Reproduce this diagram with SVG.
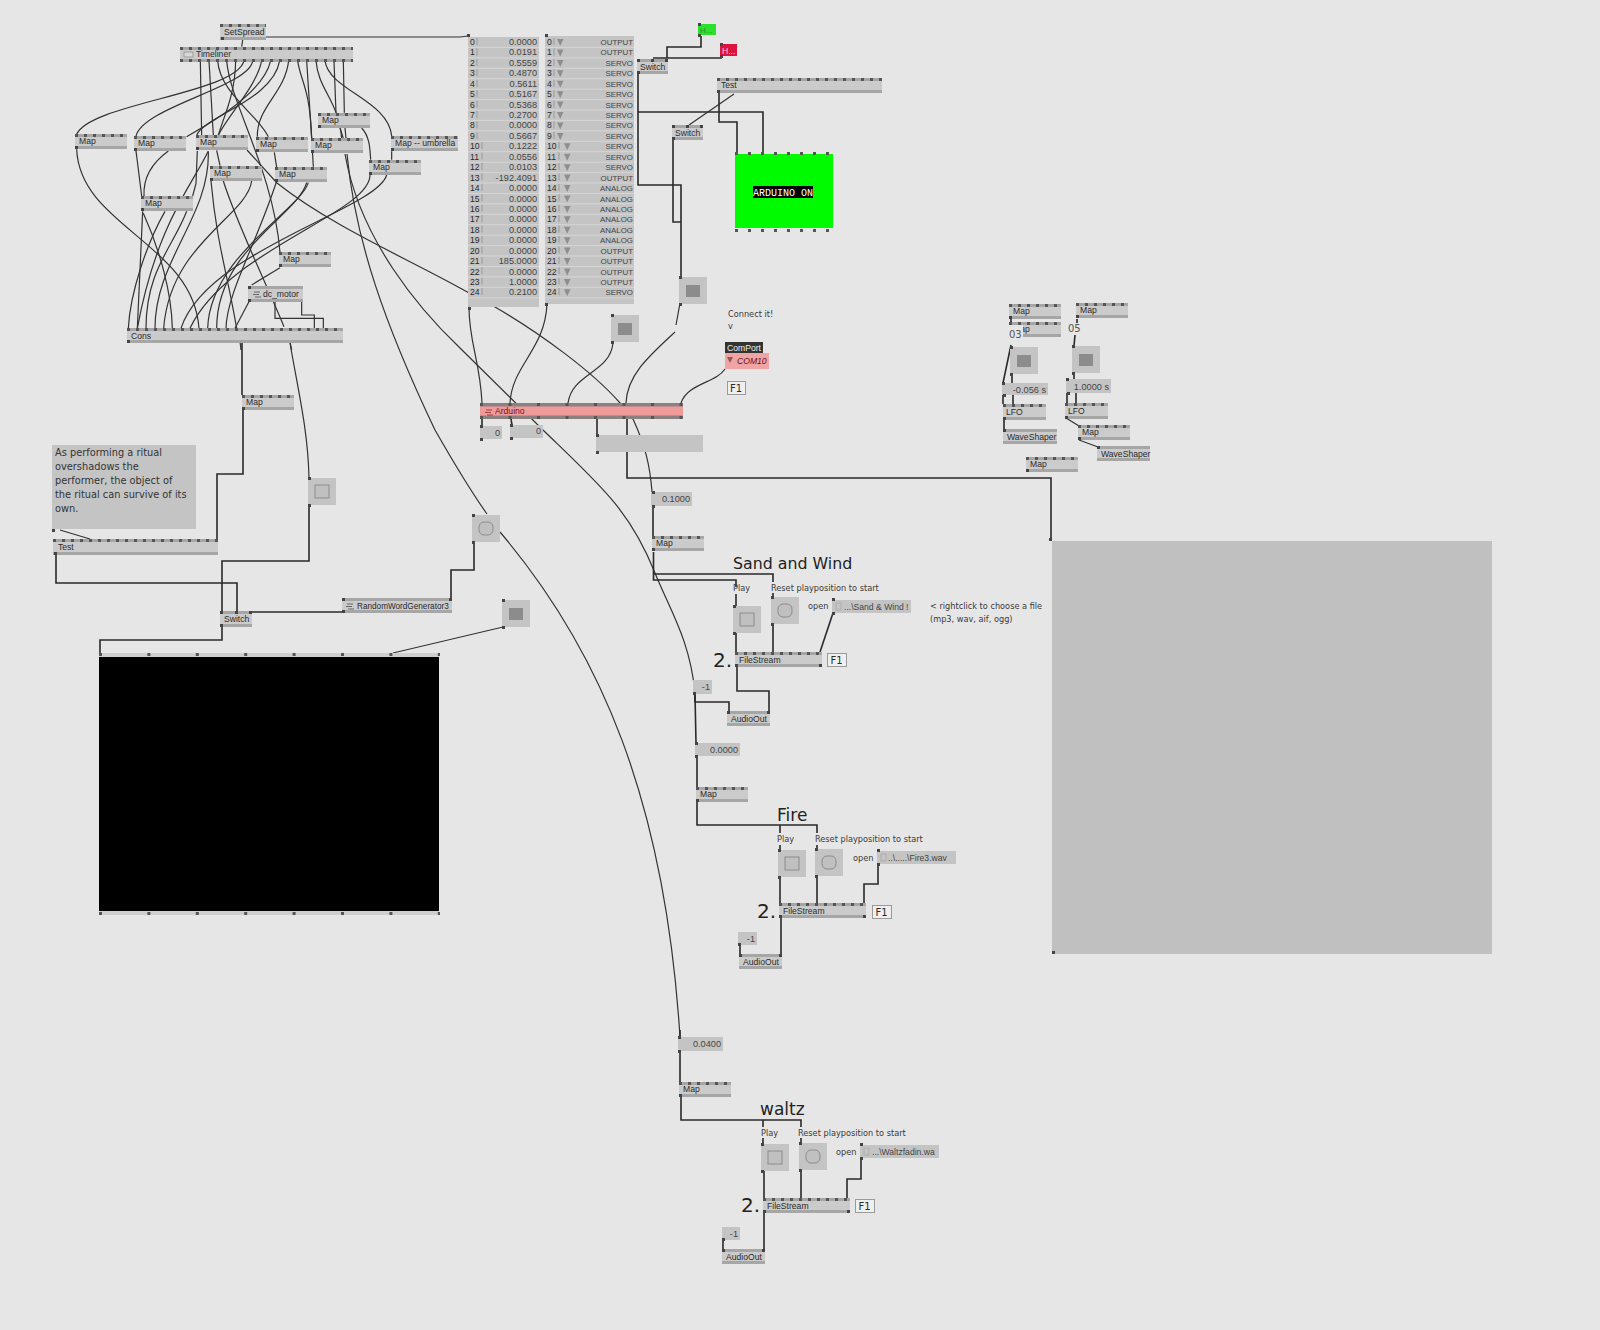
<svg xmlns="http://www.w3.org/2000/svg" width="1600" height="1330" viewBox="0 0 1600 1330">
<style>
text{font-family:"Liberation Sans",Arial,sans-serif;font-size:8.600px;fill:#2a2a2a}
.d{font-family:"DejaVu Sans",sans-serif}
.lb{font-family:"DejaVu Sans",sans-serif;font-size:8.200px;fill:#3a3a3a}
.big{font-family:"DejaVu Sans",sans-serif;font-size:17px;fill:#222}
.two{font-family:"DejaVu Sans",sans-serif;font-size:20px;fill:#222}
.r{text-anchor:end}
.v{font-size:9.200px;fill:#444}
.o{font-size:7.900px;fill:#444}
.bd{fill:#cbcbcb}
.box{fill:#c4c4c4}
.tb{fill:#a6a6a6}
.pn{stroke:#555;stroke-width:3;stroke-dasharray:3 6;fill:none}
.pk{fill:#444}
.w{fill:none;stroke:#333;stroke-width:1.2}
.t{fill:none;stroke:#2a2a2a;stroke-width:1.6}
.tick{fill:none;stroke:#999;stroke-width:1;stroke-dasharray:7 3.430}
.f1{fill:#efefef;stroke:#9a9a9a;stroke-width:1}
</style>
<defs>
<g id="map"><rect class="bd" width="52" height="15"/><rect class="tb" width="52" height="3"/><rect class="tb" y="12" width="52" height="3"/><path class="pn" d="M0,1.5H52"/><rect class="pk" y="12" width="3" height="3"/></g>
<g id="tg"><rect class="box" width="28" height="27"/><rect class="pk" y="-1" width="3" height="3"/><rect class="pk" y="26" width="3" height="3"/></g>
<g id="on"><use href="#tg"/><rect x="7" y="8" width="14" height="12" fill="#8c8c8c"/></g>
<g id="off"><use href="#tg"/><rect x="7" y="7" width="14" height="13" fill="#c0c0c0" stroke="#8c8c8c"/></g>
<g id="rnd"><use href="#tg"/><rect x="7" y="7" width="14" height="13" rx="5" fill="#c0c0c0" stroke="#8c8c8c"/></g>
<path id="tri" d="M0,0H6.5L3.2,7Z" fill="#8e8e8e"/>
<g id="fs"><rect class="bd" width="87" height="15"/><rect class="tb" width="87" height="3"/><rect class="tb" y="12" width="87" height="3"/><path class="pn" d="M0,1.5H87"/><rect class="pk" y="12" width="3" height="3"/><rect class="pk" x="84" y="12" width="3" height="3"/></g>
<g id="ao"><rect class="bd" width="43" height="15"/><rect class="tb" width="43" height="3"/><rect class="tb" y="12" width="43" height="3"/><rect class="pk" width="3" height="3"/><rect class="pk" x="40" width="3" height="3"/></g>
<g id="sw"><rect class="bd" width="31" height="15"/><rect class="tb" width="31" height="3"/><rect class="tb" y="12" width="31" height="3"/><rect class="pk" width="3" height="3"/><rect class="pk" x="14" width="3" height="3"/><rect class="pk" x="28" width="3" height="3"/><rect class="pk" y="12" width="3" height="3"/></g>
</defs>
<rect width="1600" height="1330" fill="#e6e6e6"/>

<g id="connectors">
<g transform="translate(60,10) scale(.33333)" fill="none" stroke="#333" stroke-width="3.6">
<path d="M548,90L545,110"/>
<path d="M421,152L425,376"/>
<path d="M447,152L460,376"/>
<path d="M473,152C480,250 590,310 625,380"/>
<path d="M500,152C510,280 640,480 660,727"/>
<path d="M527,152C525,260 490,320 475,376"/>
<path d="M552,152C530,250 90,280 50,373"/>
<path d="M578,152C570,230 250,290 228,378"/>
<path d="M605,152C590,230 500,320 475,376"/>
<path d="M632,152C610,250 450,340 380,380"/>
<path d="M659,152C640,270 430,320 410,376"/>
<path d="M686,152C675,250 590,290 592,380"/>
<path d="M713,152C720,210 750,230 755,385"/>
<path d="M740,152L755,385L760,470"/>
<path d="M768,152C775,240 835,270 845,385"/>
<path d="M795,152C805,240 985,270 995,378"/>
<path d="M822,152L828,308"/>
<path d="M850,152L853,308"/>
<path d="M50,418C60,650 400,700 417,955"/>
<path d="M228,423L245,558"/>
<path d="M325,423C260,470 250,520 252,558"/>
<path d="M412,423L408,520L398,558"/>
<path d="M445,423C400,520 290,640 232,955"/>
<path d="M248,604L232,955"/>
<path d="M250,610C300,720 335,850 337,955"/>
<path d="M315,604C260,700 210,850 205,955"/>
<path d="M380,604C340,710 258,780 258,955"/>
<path d="M445,425C450,620 285,750 285,955"/>
<path d="M575,513C560,620 330,700 311,955"/>
<path d="M453,513C470,700 500,780 530,955"/>
<path d="M490,513C530,640 610,800 672,950"/>
<path d="M650,513C590,700 500,850 498,955"/>
<path d="M740,518C710,620 470,720 470,955"/>
<path d="M745,518C720,600 450,740 443,955"/>
<path d="M980,495C950,600 440,720 363,955"/>
<path d="M930,495C930,610 500,720 390,955"/>
<path d="M660,773L575,825"/>
<path d="M568,873L525,955"/>
<path d="M645,875V925H790V955"/>
<path d="M725,875V915H763V955"/>
<path d="M905,354C930,380 930,420 932,449"/>
<path d="M840,354L850,385"/>
<path d="M855,354L858,385"/>
<path d="M995,424V449"/>
<path d="M470,421L480,467"/>
<path d="M643,427L650,472"/>
<path d="M540,995L543,1020"/>
<path d="M690,995L695,1020"/>
</g>
<path class="w" d="M266,37H460L468,36"/>
<path class="w" d="M347,154C355,240 385,325 435,430C455,465 470,490 487,514"/>
<path class="w" d="M345,154C360,240 420,310 460,348L543,430C600,485 630,510 655,573C670,610 690,640 695,693"/>
<path class="w" d="M247,150L277,183C330,225 400,255 460,288L495,307C540,333 593,372 620,403L633,419C645,445 650,465 652,492"/>
<path class="w" d="M500,532C600,650 665,800 680,1037"/>
<path class="t" d="M667,58V47H701V36"/>
<path class="t" d="M653,58H722"/>
<path class="t" d="M638,73V185H681V277"/>
<path class="t" d="M638,112H763V152"/>
<path class="t" d="M673,139V222H681"/>
<path class="t" d="M719,93V122H737V152"/>
<path class="w" d="M734,94L689,125"/>
<path class="w" d="M680,303L676,325M675,332C650,355 627,375 626,403"/>
<path class="w" d="M469,307C469,343 480,360 482,403"/>
<path class="w" d="M547,304C545,350 512,365 510,403"/>
<path class="w" d="M613,343C610,373 572,373 568,403"/>
<path class="w" d="M725,369C716,383 688,383 681,403"/>
<path class="t" d="M482,419V426M511,419L512,425M597,419V435"/>
<path class="t" d="M627,419V478H1051V540"/>
<path class="t" d="M653,506V536"/>
<path class="t" d="M653.500,552V580H736V587M736,594V606"/>
<path class="t" d="M653.500,574H773V582M773,593V597"/>
<path class="t" d="M736,633V652M773,624V652"/>
<path class="t" d="M833,613L820,652"/>
<path class="t" d="M737,667V691H769V711"/>
<path class="t" d="M695,694V702H729V711"/>
<path class="t" d="M695,694L696,743M697,756V787"/>
<path class="t" d="M697,802V825H817V833M817,845V849M780,825V833M780,845V850"/>
<path class="t" d="M780,877V903M817,876V903M878,864V884H864V903M781,918V954M740,945V954"/>
<path class="t" d="M680,1030V1037M680,1051V1082"/>
<path class="t" d="M681,1097V1120H801V1127M801,1138V1143M763,1120V1127M763,1138V1144"/>
<path class="t" d="M764,1171V1198M801,1170V1198M861,1158V1179H847V1198M764,1213V1249M723,1240V1249"/>
<path class="t" d="M242,343V395M243,410V474H217V540"/>
<path class="w" d="M290,343C298,390 308,430 309,478"/>
<path class="w" d="M60,530L90,539"/>
<path class="t" d="M56,554V583H237V611"/>
<path class="t" d="M309,505V561H222V611"/>
<path class="t" d="M222,627V640H100V654"/>
<path class="t" d="M250,612H342"/>
<path class="t" d="M451,598V570H474V542"/>
<path class="w" d="M503,627L393,653"/>
<path class="t" d="M1011,319V322M1011,345L1003,383M1012,373V383M1003,395V404M1013,395V404M1004,420V429M1077,319V323M1075,335L1074,346M1074,373V379M1067,393V403M1076,393V403"/>
<path class="w" d="M1066,418L1079,426M1079,440L1098,447"/>
</g>

<g id="n-setspread" transform="translate(220,24)"><rect class="bd" width="46" height="16"/><rect class="tb" width="46" height="3"/><rect class="tb" y="13" width="46" height="3"/><path class="pn" d="M0,1.500H46"/><rect class="pk" x="1" y="13" width="3" height="3"/><text x="4" y="10.500">SetSpread</text></g>
<g id="n-timeliner" transform="translate(180,47)"><rect class="bd" width="173" height="15"/><rect class="tb" width="173" height="3"/><rect class="tb" y="12" width="173" height="3"/><path class="pn" d="M0,1.500H173M0,13.500H173"/><rect x="4" y="5" width="9" height="5" fill="#d8d8d8" stroke="#888" stroke-width=".7"/><text x="16" y="10">Timeliner</text></g>
<g id="n-map1" transform="translate(75,134)"><use href="#map"/><text x="4" y="10">Map</text></g>
<g id="n-map2" transform="translate(134,136)"><use href="#map"/><text x="4" y="10">Map</text></g>
<g id="n-map3" transform="translate(196,135)"><use href="#map"/><text x="4" y="10">Map</text></g>
<g id="n-map4" transform="translate(256,137)"><use href="#map"/><text x="4" y="10">Map</text></g>
<g id="n-map5" transform="translate(311,138)"><use href="#map"/><text x="4" y="10">Map</text></g>
<g id="n-map6" transform="translate(318,113)"><use href="#map"/><text x="4" y="10">Map</text></g>
<g id="n-umbrella" transform="translate(391,136)"><rect class="bd" width="67" height="15"/><rect class="tb" width="67" height="3"/><rect class="tb" y="12" width="67" height="3"/><path class="pn" d="M0,1.500H67"/><rect class="pk" y="12" width="3" height="3"/><text x="4" y="10">Map -- umbrella</text></g>
<g id="n-map7" transform="translate(369,160)"><use href="#map"/><text x="4" y="10">Map</text></g>
<g id="n-map8" transform="translate(210,166)"><use href="#map"/><text x="4" y="10">Map</text></g>
<g id="n-map9" transform="translate(275,167)"><use href="#map"/><text x="4" y="10">Map</text></g>
<g id="n-map10" transform="translate(141,196)"><use href="#map"/><text x="4" y="10">Map</text></g>
<g id="n-map11" transform="translate(279,252)"><use href="#map"/><text x="4" y="10">Map</text></g>
<g id="n-dcmotor" transform="translate(248,286)"><rect class="bd" width="55" height="16"/><rect class="tb" width="55" height="3"/><rect class="tb" y="13" width="55" height="3"/><rect class="pk" width="3" height="3"/><rect class="pk" y="13" width="3" height="3"/><path d="M6,6H12M5,8.500H11M7,11H13" stroke="#666" stroke-width="1"/><text x="15" y="11">dc_motor</text></g>
<g id="n-cons" transform="translate(127,328)"><rect class="bd" width="216" height="15"/><rect class="tb" width="216" height="3"/><rect class="tb" y="12" width="216" height="3"/><path class="pn" d="M0,1.500H216"/><rect class="pk" y="12" width="3" height="3"/><text x="4" y="10.500">Cons</text></g>

<g id="n-values" transform="translate(468,37)">
<rect class="box" width="71" height="270"/>
<rect x="-1" y="-3" width="3" height="3" class="pk"/><rect x="0" y="270" width="3" height="3" class="pk"/>
<path class="tick" d="M9,1V104M14,105V260"/>
<g id="value-rows">
<path d="M0,10.400H71M0,20.900H71M0,31.300H71M0,41.700H71M0,52.200H71M0,62.600H71M0,73H71M0,83.400H71M0,93.900H71M0,104.300H71M0,114.700H71M0,125.200H71M0,135.600H71M0,146H71M0,156.500H71M0,166.900H71M0,177.300H71M0,187.700H71M0,198.200H71M0,208.600H71M0,219H71M0,229.500H71M0,239.900H71M0,250.300H71M0,260.800H71" stroke="#d6d6d6" stroke-width="1"/>
<text x="2" y="8">0</text><text class="r v" x="69" y="8">0.0000</text>
<text x="2" y="18.400">1</text><text class="r v" x="69" y="18.400">0.0191</text>
<text x="2" y="28.900">2</text><text class="r v" x="69" y="28.900">0.5559</text>
<text x="2" y="39.300">3</text><text class="r v" x="69" y="39.300">0.4870</text>
<text x="2" y="49.700">4</text><text class="r v" x="69" y="49.700">0.5611</text>
<text x="2" y="60.200">5</text><text class="r v" x="69" y="60.200">0.5167</text>
<text x="2" y="70.600">6</text><text class="r v" x="69" y="70.600">0.5368</text>
<text x="2" y="81">7</text><text class="r v" x="69" y="81">0.2700</text>
<text x="2" y="91.400">8</text><text class="r v" x="69" y="91.400">0.0000</text>
<text x="2" y="101.900">9</text><text class="r v" x="69" y="101.900">0.5667</text>
<text x="2" y="112.300">10</text><text class="r v" x="69" y="112.300">0.1222</text>
<text x="2" y="122.700">11</text><text class="r v" x="69" y="122.700">0.0556</text>
<text x="2" y="133.200">12</text><text class="r v" x="69" y="133.200">0.0103</text>
<text x="2" y="143.600">13</text><text class="r v" x="69" y="143.600">-192.4091</text>
<text x="2" y="154">14</text><text class="r v" x="69" y="154">0.0000</text>
<text x="2" y="164.500">15</text><text class="r v" x="69" y="164.500">0.0000</text>
<text x="2" y="174.900">16</text><text class="r v" x="69" y="174.900">0.0000</text>
<text x="2" y="185.300">17</text><text class="r v" x="69" y="185.300">0.0000</text>
<text x="2" y="195.700">18</text><text class="r v" x="69" y="195.700">0.0000</text>
<text x="2" y="206.200">19</text><text class="r v" x="69" y="206.200">0.0000</text>
<text x="2" y="216.600">20</text><text class="r v" x="69" y="216.600">0.0000</text>
<text x="2" y="227">21</text><text class="r v" x="69" y="227">185.0000</text>
<text x="2" y="237.500">22</text><text class="r v" x="69" y="237.500">0.0000</text>
<text x="2" y="247.900">23</text><text class="r v" x="69" y="247.900">1.0000</text>
<text x="2" y="258.300">24</text><text class="r v" x="69" y="258.300">0.2100</text>
</g>
</g>
<g id="n-modes" transform="translate(545,36)">
<rect class="box" width="89" height="268"/>
<rect y="-2" width="3" height="3" class="pk"/><rect y="267" width="3" height="3" class="pk"/>
<path class="tick" d="M9,2V105M14,106V261"/>
<path d="M0,11.400H89M0,21.900H89M0,32.300H89M0,42.700H89M0,53.200H89M0,63.600H89M0,74H89M0,84.400H89M0,94.900H89M0,105.300H89M0,115.700H89M0,126.200H89M0,136.600H89M0,147H89M0,157.500H89M0,167.900H89M0,178.300H89M0,188.700H89M0,199.200H89M0,209.600H89M0,220H89M0,230.500H89M0,240.900H89M0,251.300H89M0,261.800H89" stroke="#d6d6d6" stroke-width="1"/>
<g id="mode-triangles" transform="translate(0,3)">
<use href="#tri" x="12"/><use href="#tri" x="12" y="10.400"/><use href="#tri" x="12" y="20.900"/><use href="#tri" x="12" y="31.300"/><use href="#tri" x="12" y="41.700"/><use href="#tri" x="12" y="52.200"/><use href="#tri" x="12" y="62.600"/><use href="#tri" x="12" y="73"/><use href="#tri" x="12" y="83.400"/><use href="#tri" x="12" y="93.900"/>
<use href="#tri" x="19" y="104.300"/><use href="#tri" x="19" y="114.700"/><use href="#tri" x="19" y="125.200"/><use href="#tri" x="19" y="135.600"/><use href="#tri" x="19" y="146"/><use href="#tri" x="19" y="156.500"/><use href="#tri" x="19" y="166.900"/><use href="#tri" x="19" y="177.300"/><use href="#tri" x="19" y="187.700"/><use href="#tri" x="19" y="198.200"/><use href="#tri" x="19" y="208.600"/><use href="#tri" x="19" y="219"/><use href="#tri" x="19" y="229.500"/><use href="#tri" x="19" y="239.900"/><use href="#tri" x="19" y="250.300"/>
</g>
<text x="2" y="9">0</text><text class="r o" x="88" y="9">OUTPUT</text>
<text x="2" y="19.400">1</text><text class="r o" x="88" y="19.400">OUTPUT</text>
<text x="2" y="29.900">2</text><text class="r o" x="88" y="29.900">SERVO</text>
<text x="2" y="40.300">3</text><text class="r o" x="88" y="40.300">SERVO</text>
<text x="2" y="50.700">4</text><text class="r o" x="88" y="50.700">SERVO</text>
<text x="2" y="61.200">5</text><text class="r o" x="88" y="61.200">SERVO</text>
<text x="2" y="71.600">6</text><text class="r o" x="88" y="71.600">SERVO</text>
<text x="2" y="82">7</text><text class="r o" x="88" y="82">SERVO</text>
<text x="2" y="92.400">8</text><text class="r o" x="88" y="92.400">SERVO</text>
<text x="2" y="102.900">9</text><text class="r o" x="88" y="102.900">SERVO</text>
<text x="2" y="113.300">10</text><text class="r o" x="88" y="113.300">SERVO</text>
<text x="2" y="123.700">11</text><text class="r o" x="88" y="123.700">SERVO</text>
<text x="2" y="134.200">12</text><text class="r o" x="88" y="134.200">SERVO</text>
<text x="2" y="144.600">13</text><text class="r o" x="88" y="144.600">OUTPUT</text>
<text x="2" y="155">14</text><text class="r o" x="88" y="155">ANALOG</text>
<text x="2" y="165.500">15</text><text class="r o" x="88" y="165.500">ANALOG</text>
<text x="2" y="175.900">16</text><text class="r o" x="88" y="175.900">ANALOG</text>
<text x="2" y="186.300">17</text><text class="r o" x="88" y="186.300">ANALOG</text>
<text x="2" y="196.700">18</text><text class="r o" x="88" y="196.700">ANALOG</text>
<text x="2" y="207.200">19</text><text class="r o" x="88" y="207.200">ANALOG</text>
<text x="2" y="217.600">20</text><text class="r o" x="88" y="217.600">OUTPUT</text>
<text x="2" y="228">21</text><text class="r o" x="88" y="228">OUTPUT</text>
<text x="2" y="238.500">22</text><text class="r o" x="88" y="238.500">OUTPUT</text>
<text x="2" y="248.900">23</text><text class="r o" x="88" y="248.900">OUTPUT</text>
<text x="2" y="259.300">24</text><text class="r o" x="88" y="259.300">SERVO</text>
</g>
<g id="n-switch1" transform="translate(637,59)"><use href="#sw"/><text x="3" y="11">Switch</text></g>
<g id="n-hgreen" transform="translate(698,24)"><rect width="18" height="11" fill="#2ee02e"/><rect class="pk" y="-1" width="3" height="3"/><rect class="pk" y="10" width="3" height="3"/><text x="2" y="9" style="fill:#2a8a2a;font-size:8px">H...</text></g>
<g id="n-hred" transform="translate(720,44)"><rect width="17" height="12" fill="#dc1440"/><rect class="pk" y="-1" width="3" height="3"/><rect class="pk" y="11" width="3" height="3"/><text x="2" y="9.500" style="fill:#f4c8d0">H...</text></g>
<g id="n-test1" transform="translate(717,78)"><rect class="bd" width="165" height="15"/><rect class="tb" width="165" height="3"/><rect class="tb" y="12" width="165" height="3"/><path class="pn" d="M0,1.500H165"/><rect class="pk" y="12" width="3" height="3"/><text x="4" y="10">Test</text></g>
<g id="n-switch2" transform="translate(672,125)"><use href="#sw"/><text x="3" y="11">Switch</text></g>
<g id="n-arduino-on" transform="translate(735,152)"><rect y="2" width="98" height="74" fill="#00fb00"/><path class="pn" d="M0,1.500H98M0,78.500H98" style="stroke-dasharray:3 10"/><rect x="18" y="34" width="60" height="12" fill="#000"/><text x="48" y="43.500" text-anchor="middle" style="font-family:'Liberation Mono',monospace;font-size:10px;fill:#fff">ARDUINO ON</text></g>
<g id="n-toggle1" transform="translate(679,277)"><use href="#on"/></g>
<g id="n-toggle2" transform="translate(611,315)"><use href="#on"/></g>
<g id="n-connect"><text class="lb" x="728" y="317">Connect it!</text><text class="lb" x="728" y="329">v</text></g>
<g id="n-comport"><rect x="725" y="342" width="38" height="11" fill="#333"/><text x="727" y="351" style="fill:#eee">ComPort</text><rect x="725" y="353" width="44" height="16" fill="#f0a4a4"/><path d="M727,357H733L730,363Z" fill="#8a5a5a"/><text x="737" y="364" style="fill:#6a1020;font-style:italic">COM10</text><rect class="f1" x="727.500" y="381.500" width="18" height="13"/><text x="730" y="392" class="d" style="font-size:10px">F1</text></g>
<g id="n-arduino" transform="translate(480,403)"><rect width="203" height="16" fill="#f09a9a"/><rect width="203" height="3.500" fill="#8c8080"/><rect y="12.500" width="203" height="3.500" fill="#8c8080"/><path class="pn" d="M0,1.500H203M0,14.500H203" style="stroke-dasharray:3 25.500"/><path d="M6,7H12M5,9.500H11M7,12H13" stroke="#a04040" stroke-width="1"/><text x="15" y="11" style="fill:#701020">Arduino</text></g>
<g id="n-zero1" transform="translate(480,426)"><rect class="box" width="22" height="13"/><rect class="pk" y="-1" width="3" height="3"/><rect class="pk" y="12" width="3" height="3"/><text class="r v" x="20" y="10">0</text></g>
<g id="n-zero2" transform="translate(510,425)"><rect class="box" width="33" height="13"/><rect class="pk" y="-1" width="3" height="3"/><rect class="pk" y="12" width="3" height="3"/><text class="r v" x="31" y="9">0</text></g>
<g id="n-blank" transform="translate(596,435)"><rect class="box" width="107" height="17"/><rect class="pk" y="-1" width="3" height="3"/><rect class="pk" y="16" width="3" height="3"/></g>
<g id="n-v1" transform="translate(651,492)"><rect class="box" width="41" height="14"/><rect class="pk" x="1" y="-1" width="3" height="3"/><rect class="pk" x="1" y="13" width="3" height="3"/><text class="r v" x="39" y="10">0.1000</text></g>
<g id="n-map12" transform="translate(652,536)"><use href="#map"/><text x="4" y="10">Map</text></g>

<g id="n-map13" transform="translate(1009,304)"><use href="#map"/><text x="4" y="10">Map</text></g>
<g id="n-map14" transform="translate(1009,322)"><use href="#map"/><text x="4" y="10">Map</text><rect x="0" y="3" width="14" height="14" fill="#e6e6e6"/><text x="0" y="15.500" class="d" style="font-size:10px;fill:#555">03</text></g>
<g id="n-map15" transform="translate(1076,303)"><use href="#map"/><text x="4" y="10">Map</text></g>
<g id="n-05"><text x="1068" y="332" class="d" style="font-size:10px;fill:#555">05</text></g>
<g id="n-toggle3" transform="translate(1010,347)"><use href="#on"/></g>
<g id="n-toggle4" transform="translate(1072,346)"><use href="#on"/></g>
<g id="n-time1" transform="translate(1002,383)"><rect class="box" width="46" height="12"/><rect class="pk" y="-1" width="3" height="3"/><rect class="pk" x="1" y="11" width="3" height="3"/><text class="r v" x="44" y="9.500">-0.056 s</text></g>
<g id="n-time2" transform="translate(1066,379)"><rect class="box" width="45" height="14"/><rect class="pk" y="-1" width="3" height="3"/><rect class="pk" x="1" y="13" width="3" height="3"/><text class="r v" x="43" y="10.500">1.0000 s</text></g>
<g id="n-lfo1" transform="translate(1003,404)"><rect class="bd" width="43" height="16"/><rect class="tb" width="43" height="3"/><rect class="tb" y="13" width="43" height="3"/><path class="pn" d="M0,1.500H43"/><rect class="pk" y="13" width="3" height="3"/><text x="3" y="10.500">LFO</text></g>
<g id="n-lfo2" transform="translate(1065,403)"><rect class="bd" width="43" height="16"/><rect class="tb" width="43" height="3"/><rect class="tb" y="13" width="43" height="3"/><path class="pn" d="M0,1.500H43"/><rect class="pk" y="13" width="3" height="3"/><text x="3" y="10.500">LFO</text></g>
<g id="n-wave1" transform="translate(1003,429)"><rect class="bd" width="54" height="15"/><rect class="tb" width="54" height="3"/><rect class="tb" y="12" width="54" height="3"/><rect class="pk" width="3" height="3"/><text x="4" y="10.500">WaveShaper</text></g>
<g id="n-map16" transform="translate(1078,425)"><use href="#map"/><text x="4" y="10">Map</text></g>
<g id="n-wave2" transform="translate(1097,446)"><rect class="bd" width="53" height="15"/><rect class="tb" width="53" height="3"/><rect class="tb" y="12" width="53" height="3"/><rect class="pk" width="3" height="3"/><text x="4" y="10.500">WaveShaper</text></g>
<g id="n-map17" transform="translate(1026,457)"><use href="#map"/><text x="4" y="10">Map</text></g>

<g id="n-map18" transform="translate(242,395)"><use href="#map"/><text x="4" y="10">Map</text></g>
<g id="n-note"><rect x="52" y="445" width="144" height="84" class="box"/><rect x="52" y="529" width="3" height="3" class="pk"/><text class="d" x="55" y="456" style="font-size:9.800px;fill:#333"><tspan x="55" y="456">As performing a ritual</tspan><tspan x="55" y="470">overshadows the</tspan><tspan x="55" y="484">performer, the object of</tspan><tspan x="55" y="498">the ritual can survive of its</tspan><tspan x="55" y="512">own.</tspan></text></g>
<g id="n-test2" transform="translate(53,539)"><rect class="bd" width="165" height="16"/><rect class="tb" width="165" height="3"/><rect class="tb" y="13" width="165" height="3"/><path class="pn" d="M0,1.500H165"/><rect class="pk" x="1" y="13" width="3" height="3"/><text x="5" y="11">Test</text></g>
<g id="n-toggle5" transform="translate(308,478)"><use href="#off"/></g>
<g id="n-toggle6" transform="translate(472,515)"><use href="#rnd"/></g>
<g id="n-toggle7" transform="translate(502,600)"><use href="#on"/></g>
<g id="n-switch3" transform="translate(220,611)"><rect class="bd" width="32" height="16"/><rect class="tb" width="32" height="3"/><rect class="tb" y="13" width="32" height="3"/><rect class="pk" width="3" height="3"/><rect class="pk" x="15" width="3" height="3"/><rect class="pk" x="29" width="3" height="3"/><rect class="pk" y="13" width="3" height="3"/><text x="4" y="11">Switch</text></g>
<g id="n-rwg" transform="translate(342,598)"><rect class="bd" width="110" height="15"/><rect class="tb" width="110" height="3"/><rect class="tb" y="12" width="110" height="3"/><rect class="pk" width="3" height="3"/><rect class="pk" y="12" width="3" height="3"/><rect class="pk" x="107" width="3" height="3"/><path d="M5,6H11M4,8.500H10M6,11H12" stroke="#666" stroke-width="1"/><text x="15" y="10.500" style="font-size:8.200px">RandomWordGenerator3</text></g>
<g id="n-renderer"><rect x="99" y="653" width="340" height="262" fill="#cfcfcf"/><rect x="99" y="657" width="340" height="254" fill="#000"/><path class="pn" d="M99,654.500H440M99,913.500H440" style="stroke-dasharray:3 45.400"/></g>
<g id="n-panel"><rect x="1052" y="541" width="440" height="413" fill="#c0c0c0"/><rect x="1049" y="538" width="3" height="3" class="pk"/><rect x="1052" y="951" width="3" height="3" class="pk"/></g>

<g id="n-sand">
<text class="big" x="733" y="569" style="font-size:15.800px">Sand and Wind</text>
<text class="lb" x="733" y="591">Play</text><text class="lb" x="771" y="591">Reset playposition to start</text>
<g transform="translate(733,606)"><use href="#off"/></g><g transform="translate(771,597)"><use href="#rnd"/></g>
<text class="lb" x="808" y="609">open</text>
<rect class="box" x="832" y="600" width="79" height="13"/><rect class="pk" x="832" y="598" width="3" height="3"/><rect class="pk" x="832" y="612" width="3" height="3"/>
<rect x="836" y="603" width="5" height="7" fill="none" stroke="#aaa" stroke-width=".8"/>
<text x="844" y="609.500" style="fill:#444">...\Sand &amp; Wind !</text>
<text class="lb" x="930" y="609">&lt; rightclick to choose a file</text><text class="lb" x="930" y="622">(mp3, wav, aif, ogg)</text>
<text class="two" x="713" y="667">2.</text>
<g transform="translate(735,652)"><use href="#fs"/><text x="4" y="10.500">FileStream</text></g>
<rect class="f1" x="827.500" y="653.500" width="19" height="13"/><text class="d" x="830.500" y="664" style="font-size:10px">F1</text>
<g transform="translate(693,680)"><rect class="box" width="19" height="14"/><rect class="pk" y="12" width="3" height="3"/><text class="r v" x="17" y="10">-1</text></g>
<g transform="translate(727,711)"><use href="#ao"/><text x="4" y="10.500">AudioOut</text></g>
<g transform="translate(695,743)"><rect class="box" width="45" height="13"/><rect class="pk" y="-1" width="3" height="3"/><rect class="pk" y="12" width="3" height="3"/><text class="r v" x="43" y="10">0.0000</text></g>
</g>
<g id="n-map19" transform="translate(696,787)"><use href="#map"/><text x="4" y="10">Map</text></g>

<g id="n-fire">
<text class="big" x="777" y="821">Fire</text>
<text class="lb" x="777" y="842">Play</text><text class="lb" x="815" y="842">Reset playposition to start</text>
<g transform="translate(778,850)"><use href="#off"/></g><g transform="translate(815,849)"><use href="#rnd"/></g>
<text class="lb" x="853" y="861">open</text>
<rect class="box" x="877" y="851" width="79" height="13"/><rect class="pk" x="877" y="849" width="3" height="3"/><rect class="pk" x="877" y="863" width="3" height="3"/>
<rect x="881" y="854" width="5" height="7" fill="none" stroke="#aaa" stroke-width=".8"/>
<text x="888" y="861" style="fill:#444">..\.....\Fire3.wav</text>
<text class="two" x="757" y="918">2.</text>
<g transform="translate(779,903)"><use href="#fs"/><text x="4" y="10.500">FileStream</text></g>
<rect class="f1" x="872.500" y="905.500" width="19" height="13"/><text class="d" x="875.500" y="916" style="font-size:10px">F1</text>
<g transform="translate(738,932)"><rect class="box" width="19" height="13"/><rect class="pk" y="11" width="3" height="3"/><text class="r v" x="17" y="10">-1</text></g>
<g transform="translate(739,954)"><use href="#ao"/><text x="4" y="10.500">AudioOut</text></g>
</g>

<g id="n-v3" transform="translate(678,1037)"><rect class="box" width="45" height="14"/><rect class="pk" y="-1" width="3" height="3"/><rect class="pk" y="13" width="3" height="3"/><text class="r v" x="43" y="10">0.0400</text></g>
<g id="n-map20" transform="translate(679,1082)"><use href="#map"/><text x="4" y="10">Map</text></g>
<g id="n-waltz">
<text class="big" x="760" y="1115">waltz</text>
<text class="lb" x="761" y="1136">Play</text><text class="lb" x="798" y="1136">Reset playposition to start</text>
<g transform="translate(761,1144)"><use href="#off"/></g><g transform="translate(799,1143)"><use href="#rnd"/></g>
<text class="lb" x="836" y="1155">open</text>
<rect class="box" x="860" y="1145" width="79" height="13"/><rect class="pk" x="860" y="1143" width="3" height="3"/><rect class="pk" x="860" y="1157" width="3" height="3"/>
<rect x="864" y="1148" width="5" height="7" fill="none" stroke="#aaa" stroke-width=".8"/>
<text x="872" y="1155" style="fill:#444">...\Waltzfadin.wa</text>
<text class="two" x="741" y="1212">2.</text>
<g transform="translate(763,1198)"><use href="#fs"/><text x="4" y="10.500">FileStream</text></g>
<rect class="f1" x="855.500" y="1199.500" width="19" height="13"/><text class="d" x="858.500" y="1210" style="font-size:10px">F1</text>
<g transform="translate(722,1227)"><rect class="box" width="18" height="13"/><rect class="pk" y="11" width="3" height="3"/><text class="r v" x="16" y="10">-1</text></g>
<g transform="translate(722,1249)"><use href="#ao"/><text x="4" y="10.500">AudioOut</text></g>
</g>
</svg>
